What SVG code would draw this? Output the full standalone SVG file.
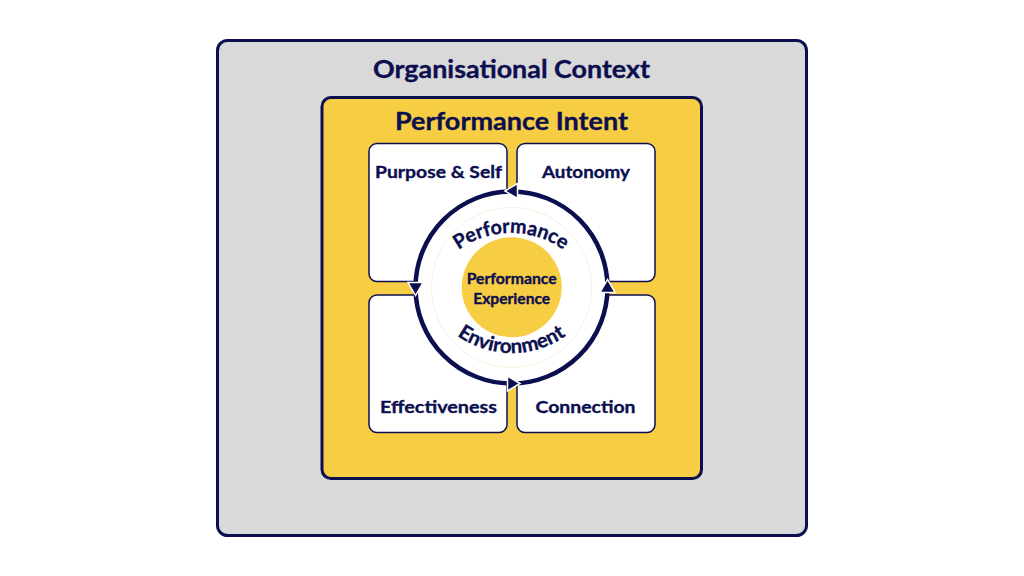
<svg xmlns="http://www.w3.org/2000/svg" width="1024" height="576" viewBox="0 0 1024 576">
  <style>
    .t { font-family: Lato, "Noto Sans", "Liberation Sans", sans-serif; font-weight: 700; fill: #0c0f4f; text-anchor: middle; stroke: #0c0f4f; stroke-width: 0.35; }
    .box { fill: #ffffff; stroke: #0c0f4f; stroke-width: 1.5; }
    .arrow { fill: #0c0f4f; stroke: #ffffff; stroke-width: 1.5; stroke-linejoin: miter; }
  </style>
  <defs>
    <path id="arcTop" d="M 421 323 A 90 90 0 0 1 601 323"/>
    <path id="arcBottom" d="M 417.5 259 A 94 94 0 0 0 605.5 259"/>
  </defs>
  <rect width="1024" height="576" fill="#ffffff"/>

  <g id="organisational-context">
    <rect x="217.5" y="40.5" width="589" height="495" rx="10" fill="#d9d9d9" stroke="#0c0f4f" stroke-width="3"/>
    <text class="t" x="511.5" y="78" font-size="25.5" textLength="277" lengthAdjust="spacingAndGlyphs">Organisational Context</text>
  </g>

  <g id="performance-intent">
    <rect x="322" y="97.5" width="379.5" height="381" rx="9" fill="#f7cd43" stroke="#0c0f4f" stroke-width="3"/>
    <text class="t" x="511.5" y="130" font-size="25.5" textLength="233" lengthAdjust="spacingAndGlyphs">Performance Intent</text>
  </g>

  <g id="purpose-self">
    <rect class="box" x="369" y="143.5" width="138" height="138" rx="8"/>
    <text class="t" x="438.5" y="177.5" font-size="17.5" textLength="127" lengthAdjust="spacingAndGlyphs">Purpose &amp; Self</text>
  </g>
  <g id="autonomy">
    <rect class="box" x="517" y="143.5" width="138" height="138" rx="8"/>
    <text class="t" x="586" y="177.5" font-size="17.5" textLength="88" lengthAdjust="spacingAndGlyphs">Autonomy</text>
  </g>
  <g id="effectiveness">
    <rect class="box" x="369" y="295" width="138" height="137.5" rx="8"/>
    <text class="t" x="438.5" y="413" font-size="17.5" textLength="117" lengthAdjust="spacingAndGlyphs">Effectiveness</text>
  </g>
  <g id="connection">
    <rect class="box" x="517" y="295" width="138" height="137.5" rx="8"/>
    <text class="t" x="585.5" y="413" font-size="17.5" textLength="100" lengthAdjust="spacingAndGlyphs">Connection</text>
  </g>

  <g id="performance-environment">
    <circle cx="511.5" cy="287.5" r="95" fill="#ffffff"/>
    <circle cx="511.5" cy="287.5" r="80" fill="none" stroke="#f6f1de" stroke-width="1"/>
    <text class="t" font-size="20"><textPath href="#arcTop" startOffset="50%" textLength="112" lengthAdjust="spacingAndGlyphs">Performance</textPath></text>
    <text class="t" font-size="20"><textPath href="#arcBottom" startOffset="50%" textLength="116" lengthAdjust="spacingAndGlyphs">Environment</textPath></text>
  </g>

  <g id="performance-experience">
    <circle cx="511.7" cy="287.2" r="50" fill="#f7cd43"/>
    <text class="t" x="511.7" y="284" font-size="14.5" textLength="90" lengthAdjust="spacingAndGlyphs">Performance</text>
    <text class="t" x="511.7" y="303.5" font-size="14.5" textLength="77" lengthAdjust="spacingAndGlyphs">Experience</text>
  </g>

  <g id="connectors">
    <circle cx="511.5" cy="287.5" r="96" fill="none" stroke="#0c0f4f" stroke-width="4.5"/>
    <polygon class="arrow" points="505,191 517.5,183.5 517.5,198.5"/>
    <polygon class="arrow" points="415.5,295.5 408,282.5 423,282.5"/>
    <polygon class="arrow" points="520,383.5 507.5,376 507.5,391"/>
    <polygon class="arrow" points="607.5,279.5 600,292.5 615,292.5"/>
  </g>
</svg>
